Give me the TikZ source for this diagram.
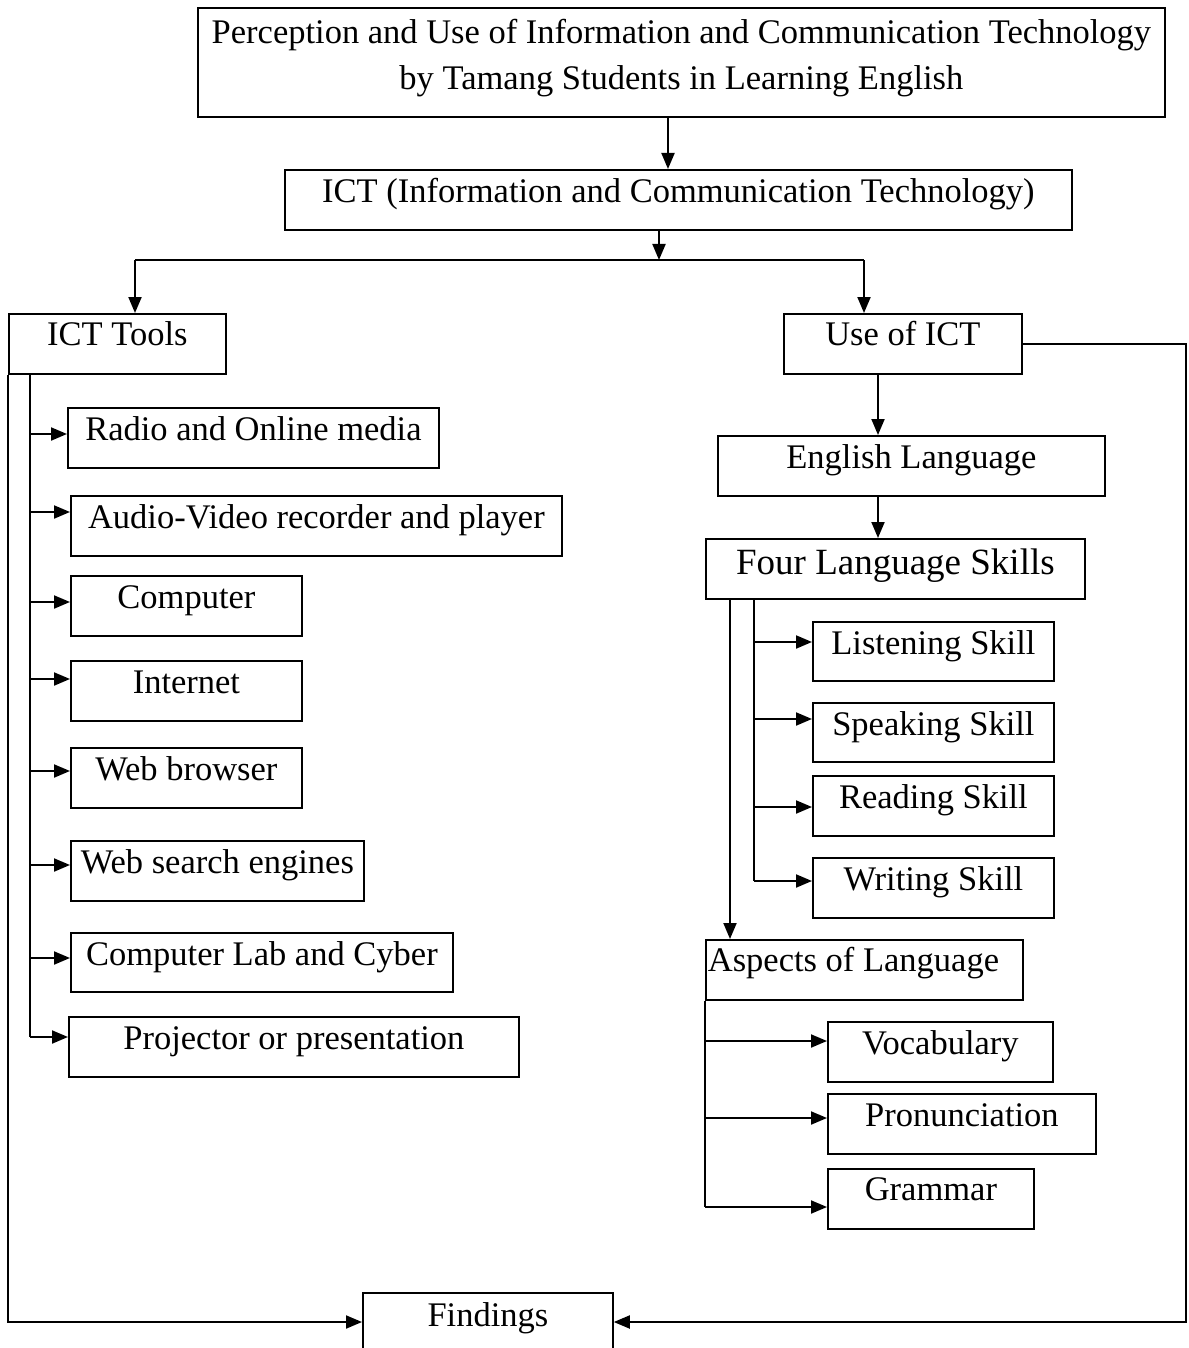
\documentclass[tikz,border=0pt]{standalone}
\usepackage{fontspec}
\setmainfont{Liberation Serif}
\usetikzlibrary{arrows.meta}
\newcommand\fsmain{\fontsize{34.5}{46}\selectfont}
\newcommand\fsbig{\fontsize{37}{46}\selectfont}
\tikzset{
  bx/.style={draw, line width=1.8pt, inner sep=0pt, anchor=north west, font=\fsmain, text height=33pt},
  con/.style={line width=2pt},
  arr/.style={con, -{Triangle[length=16pt,width=13pt]}},
}
\begin{document}
\begin{tikzpicture}[x=1pt,y=-1pt]
\useasboundingbox (0,0) rectangle (1188,1348);
\fill[white] (0,0) rectangle (1188,1348);
\clip (0,0) rectangle (1188,1348);

% top
\node[draw, line width=1.8pt, anchor=north west, minimum width=967pt, minimum height=109pt, inner sep=0pt, align=center, font=\fsmain] (title) at (197,7)
  {Perception and Use of Information and Communication Technology\\by Tamang Students in Learning English\rule[-15.5pt]{0pt}{0pt}};
\node[bx, minimum width=787pt, text depth=27pt] (ict) at (284,169) {ICT (Information and Communication Technology)};
\node[bx, minimum width=217pt, text height=32pt, text depth=28pt] (tools) at (8,313) {ICT Tools};
\node[bx, minimum width=238pt, text height=32pt, text depth=28pt] (use) at (783,313) {Use of ICT};

% left column
\node[bx, minimum width=371pt, text depth=27pt] (radio) at (67,407) {Radio and Online media};
\node[bx, minimum width=491pt, text depth=27pt] (audio) at (70,495) {Audio-Video recorder and player};
\node[bx, minimum width=231pt, text depth=27pt] (computer) at (70,575) {Computer};
\node[bx, minimum width=231pt, text depth=27pt] (internet) at (70,660) {Internet};
\node[bx, minimum width=231pt, text depth=27pt] (browser) at (70,747) {Web browser};
\node[bx, minimum width=293pt, text depth=27pt] (search) at (70,840) {Web search engines};
\node[bx, minimum width=382pt, text depth=26pt] (lab) at (70,932) {Computer Lab and Cyber};
\node[bx, minimum width=450pt, text depth=27pt] (projector) at (68,1016) {Projector or presentation};

% right column
\node[bx, minimum width=387pt, text depth=27pt] (english) at (717,435) {English Language};
\node[bx, minimum width=379pt, font=\fsbig, text height=36pt, text depth=24pt] (four) at (705,538) {Four Language Skills};
\node[bx, minimum width=241pt, text depth=26pt] (listening) at (812,621) {Listening Skill};
\node[bx, minimum width=241pt, text depth=26pt] (speaking) at (812,702) {Speaking Skill};
\node[bx, minimum width=241pt, text depth=27pt] (reading) at (812,775) {Reading Skill};
\node[bx, minimum width=241pt, text depth=27pt] (writing) at (812,857) {Writing Skill};
\node[bx, text height=32pt, text depth=28pt] (aspects) at (705,939) {\makebox[317pt][l]{\hspace{2pt}Aspects of Language}};
\node[bx, minimum width=225pt, text depth=27pt] (vocab) at (827,1021) {Vocabulary};
\node[bx, minimum width=268pt, text depth=27pt] (pron) at (827,1093) {Pronunciation};
\node[bx, minimum width=206pt, text height=32pt, text depth=28pt] (grammar) at (827,1168) {Grammar};

% findings (open at the bottom edge)
\node[bx, minimum width=250pt, text height=34pt, text depth=46pt] (findings) at (362,1292) {Findings};

% helper coordinates
\coordinate (xa) at (668,0);
\coordinate (split) at (659,260);
\coordinate (sl) at (135,260);
\coordinate (sr) at (864,260);
\coordinate (bus) at (30,0);
\coordinate (xb) at (878,0);
\coordinate (xc) at (730,0);
\coordinate (xd) at (754,0);
\coordinate (rightx) at (1186,0);
\coordinate (bottomline) at (0,1322);

\coordinate (radioin) at ([yshift=-27pt]radio.north west);
\coordinate (audioin) at ([yshift=-17pt]audio.north west);
\coordinate (computerin) at ([yshift=-27pt]computer.north west);
\coordinate (internetin) at ([yshift=-19pt]internet.north west);
\coordinate (browserin) at ([yshift=-24pt]browser.north west);
\coordinate (searchin) at ([yshift=-25pt]search.north west);
\coordinate (labin) at ([yshift=-26pt]lab.north west);
\coordinate (projectorin) at ([yshift=-21pt]projector.north west);
\coordinate (listeningin) at ([yshift=-21pt]listening.north west);
\coordinate (speakingin) at ([yshift=-17pt]speaking.north west);
\coordinate (readingin) at ([yshift=-32pt]reading.north west);
\coordinate (writingin) at ([yshift=-24pt]writing.north west);
\coordinate (vocabin) at ([yshift=-20pt]vocab.north west);
\coordinate (pronin) at ([yshift=-25pt]pron.north west);
\coordinate (grammarin) at ([yshift=-39pt]grammar.north west);

% top connectors
\draw[arr] (title.south -| xa) -- (ict.north -| xa);
\draw[arr] (ict.south -| split) -- (split);
\draw[con] (sl) -- (sr);
\draw[arr] (sl) -- (tools.north -| sl);
\draw[arr] (sr) -- (use.north -| sr);

% left bus
\foreach \n in {radio,audio,computer,internet,browser,search,lab,projector}{
  \draw[arr] (bus |- \n in) -- (\n in);
}
\draw[con] (tools.south -| bus) -- (bus |- projectorin);

% outer lines to findings
\draw[arr] (tools.south west) -- (tools.south west |- bottomline) -- (findings.west |- bottomline);
\draw[arr] (use.east) -- (rightx |- use.east) -- (rightx |- bottomline) -- (findings.east |- bottomline);

% right column connectors
\draw[arr] (use.south -| xb) -- (english.north -| xb);
\draw[arr] (english.south -| xb) -- (four.north -| xb);
\draw[arr] (four.south -| xc) -- (aspects.north -| xc);
\foreach \n in {listening,speaking,reading,writing}{
  \draw[arr] (xd |- \n in) -- (\n in);
}
\draw[con] (four.south -| xd) -- (xd |- writingin);
\foreach \n in {vocab,pron,grammar}{
  \draw[arr] (aspects.south west |- \n in) -- (\n in);
}
\draw[con] (aspects.south west) -- (aspects.south west |- grammarin);
\end{tikzpicture}
\end{document}
